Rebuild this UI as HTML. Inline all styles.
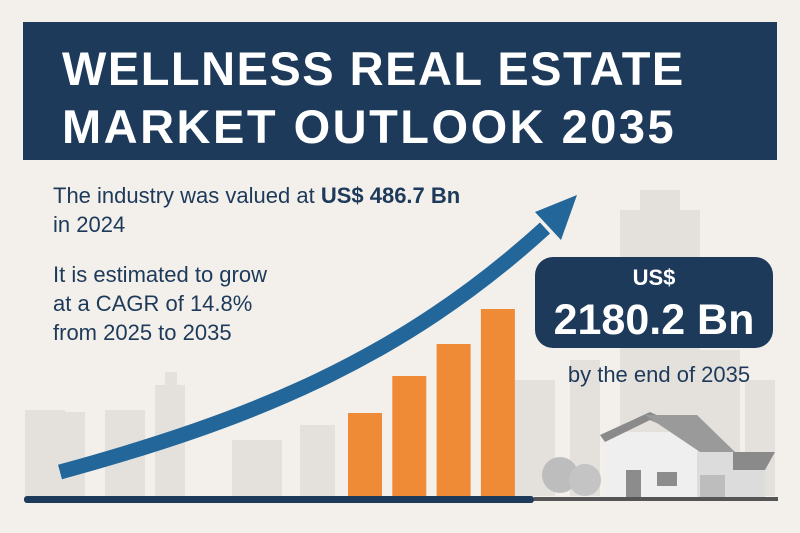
<!DOCTYPE html>
<html><head><meta charset="utf-8"><style>
body{margin:0;width:800px;height:533px;overflow:hidden;background:#f3efea;font-family:"Liberation Sans",sans-serif}
svg{display:block}
</style></head><body>
<svg width="800" height="533" viewBox="0 0 800 533">
<rect width="800" height="533" fill="#f3efea"/>
<g fill="#e4e1dd">
<rect x="25" y="410" width="40" height="86"/><rect x="55" y="412" width="30" height="84"/>
<rect x="105" y="410" width="40" height="86"/><rect x="155" y="385" width="30" height="111"/>
<rect x="165" y="372" width="12" height="20"/><rect x="232" y="440" width="50" height="56"/>
<rect x="300" y="425" width="35" height="71"/><rect x="515" y="380" width="40" height="116"/>
<rect x="570" y="360" width="30" height="136"/><rect x="620" y="210" width="80" height="286"/>
<rect x="640" y="190" width="40" height="30"/><rect x="700" y="350" width="40" height="146"/>
<rect x="745" y="380" width="30" height="116"/>
</g>
<rect x="23" y="22" width="754" height="138" fill="#1d3a5a"/>
<text x="62" y="85" fill="#ffffff" font-size="47" font-weight="bold" letter-spacing="1.5">WELLNESS REAL ESTATE</text>
<text x="62" y="143" fill="#ffffff" font-size="47" font-weight="bold" letter-spacing="2.5">MARKET OUTLOOK 2035</text>
<g fill="#1d3a5a" font-size="22">
<text x="53" y="203">The industry was valued at <tspan font-weight="bold">US$ 486.7 Bn</tspan></text>
<text x="53" y="232">in 2024</text>
<text x="53" y="282">It is estimated to grow</text>
<text x="53" y="311">at a CAGR of 14.8%</text>
<text x="53" y="340">from 2025 to 2035</text>
</g>
<g id="bars"></g>
<path d="M60,472 C250,420 400,360 545,228" stroke="#22669a" stroke-width="15" fill="none"/>
<polygon points="577,195 535,212 561,240" fill="#22669a"/>
<rect x="535" y="257" width="238" height="91" rx="18" fill="#1d3a5a"/>
<text x="654" y="285" text-anchor="middle" fill="#fff" font-size="22" font-weight="bold">US$</text>
<text x="654" y="334" text-anchor="middle" fill="#fff" font-size="43" font-weight="bold">2180.2 Bn</text>
<text x="659" y="382" text-anchor="middle" fill="#1d3a5a" font-size="22">by the end of 2035</text>
<g>
<circle cx="560" cy="475" r="18" fill="#bdbdbd"/><circle cx="585" cy="480" r="16" fill="#c4c4c4"/>
<rect x="605" y="432" width="92" height="66" fill="#efefef"/>
<polygon points="600,435 650,412 700,435 700,442 650,420 605,442" fill="#8a8a8a"/>
<polygon points="645,415 697,415 735,452 700,452" fill="#9a9a9a"/>
<rect x="697" y="452" width="68" height="46" fill="#dcdcdc"/>
<polygon points="733,452 775,452 765,470 733,470" fill="#8a8a8a"/>
<rect x="626" y="470" width="15" height="28" fill="#8c8c8c"/>
<rect x="657" y="472" width="20" height="14" fill="#8c8c8c"/>
<rect x="700" y="475" width="25" height="23" fill="#bdbdbd"/>
</g>
<rect x="24" y="496" width="510" height="7" rx="3" fill="#1d3a5a"/>
<rect x="534" y="497" width="244" height="4" fill="#555"/>
</svg>
<script>
const categories=["2025","2028","2031","2035"];
const values=[83,120,152,187];
const yScale=v=>v*1.0;
const baseY=496, x0=348, bw=34, gap=44.3;
const g=document.getElementById('bars');
const NS='http://www.w3.org/2000/svg';
categories.forEach((c,i)=>{
  const r=document.createElementNS(NS,'rect');
  const h=yScale(values[i]);
  r.setAttribute('x',x0+i*gap);r.setAttribute('y',baseY-h);
  r.setAttribute('width',bw);r.setAttribute('height',h);
  r.setAttribute('fill','#ef8a37');
  
  
  g.appendChild(r);
});
</script>
</body></html>
